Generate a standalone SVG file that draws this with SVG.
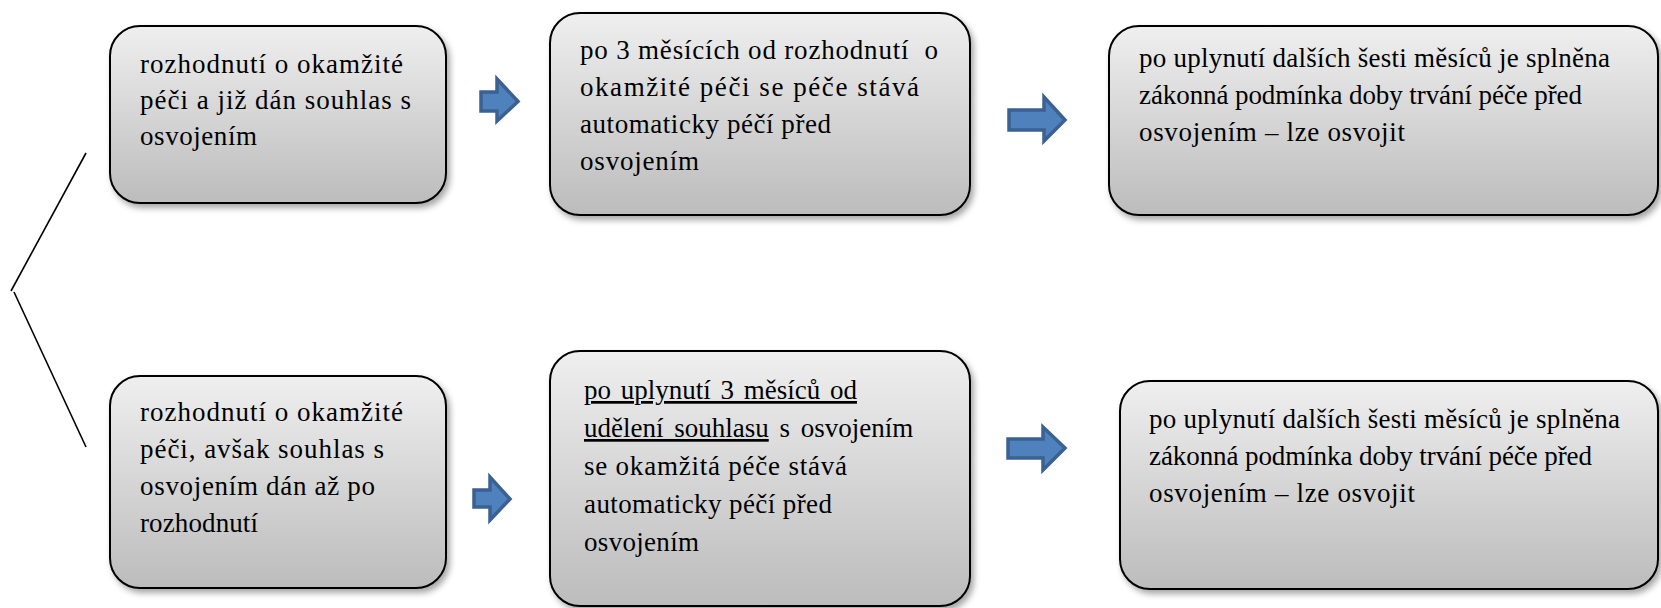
<svg xmlns="http://www.w3.org/2000/svg" width="1661" height="608" viewBox="0 0 1661 608">
<defs>
<linearGradient id="g" x1="0" y1="0" x2="0" y2="1">
<stop offset="0" stop-color="#efefef"/>
<stop offset="1" stop-color="#bcbcbc"/>
</linearGradient>
<filter id="sh" x="-10%" y="-10%" width="125%" height="130%">
<feDropShadow dx="3" dy="4" stdDeviation="3" flood-color="#000" flood-opacity="0.35"/>
</filter>
</defs>
<style>
.box{fill:url(#g);stroke:#000;stroke-width:2;filter:url(#sh)}
.t{font-family:"Liberation Serif","Times New Roman",serif;font-size:27px;fill:#000}
.arr{fill:#4f81bd;stroke:#3a6192;stroke-width:3.5;stroke-linejoin:miter}
.ln{stroke:#000;stroke-width:1.6;fill:none}
</style>
<rect width="1661" height="608" fill="#fff"/>
<g id="connectors">
<line class="ln" x1="86" y1="153" x2="11" y2="291"/>
<line class="ln" x1="14" y1="292" x2="86" y2="447"/>
<path class="arr" d="M481,92 H497 V79 L518,101.5 L497,121 V111 H481 Z"/>
<path class="arr" d="M1009,110 H1044 V97 L1065,120 L1044,141 V130 H1009 Z"/>
<path class="arr" d="M474,490 H490 V477 L510,499 L490,520 V507 H474 Z"/>
<path class="arr" d="M1008,439 H1043 V427 L1065,448 L1043,470 V458 H1008 Z"/>
</g>
<g id="n1">
<rect class="box" x="110" y="26" width="336" height="177" rx="30"/>
<text class="t" x="140" y="73" textLength="263" lengthAdjust="spacing">rozhodnutí o okamžité</text>
<text class="t" x="140" y="109" textLength="271" lengthAdjust="spacing">péči a již dán souhlas s</text>
<text class="t" x="140" y="145" textLength="117" lengthAdjust="spacing">osvojením</text>
</g>
<g id="n2">
<rect class="box" x="550" y="13" width="420" height="202" rx="30"/>
<text class="t" x="580" y="59" xml:space="preserve" textLength="358" lengthAdjust="spacing">po 3 měsících od rozhodnutí  o</text>
<text class="t" x="580" y="96" textLength="339" lengthAdjust="spacing">okamžité péči se péče stává</text>
<text class="t" x="580" y="133" textLength="251" lengthAdjust="spacing">automaticky péčí před</text>
<text class="t" x="580" y="170" textLength="119" lengthAdjust="spacing">osvojením</text>
</g>
<g id="n3">
<rect class="box" x="1109" y="26" width="549" height="189" rx="30"/>
<text class="t" x="1139" y="67" textLength="471" lengthAdjust="spacing">po uplynutí dalších šesti měsíců je splněna</text>
<text class="t" x="1139" y="104" textLength="443" lengthAdjust="spacing">zákonná podmínka doby trvání péče před</text>
<text class="t" x="1139" y="141" textLength="266" lengthAdjust="spacing">osvojením – lze osvojit</text>
</g>
<g id="n4">
<rect class="box" x="110" y="376" width="336" height="212" rx="30"/>
<text class="t" x="140" y="421" textLength="263" lengthAdjust="spacing">rozhodnutí o okamžité</text>
<text class="t" x="140" y="458" textLength="244" lengthAdjust="spacing">péči, avšak souhlas s</text>
<text class="t" x="140" y="495" textLength="235" lengthAdjust="spacing">osvojením dán až po</text>
<text class="t" x="140" y="532" textLength="118" lengthAdjust="spacing">rozhodnutí</text>
</g>
<g id="n5">
<rect class="box" x="550" y="351" width="420" height="255" rx="30"/>
<text class="t" x="584" y="399" text-decoration="underline" word-spacing="3">po uplynutí 3 měsíců od</text>
<text class="t" x="584" y="437" word-spacing="4"><tspan text-decoration="underline">udělení souhlasu</tspan> s osvojením</text>
<text class="t" x="584" y="475" textLength="263" lengthAdjust="spacing">se okamžitá péče stává</text>
<text class="t" x="584" y="513" textLength="248" lengthAdjust="spacing">automaticky péčí před</text>
<text class="t" x="584" y="551" textLength="115" lengthAdjust="spacing">osvojením</text>
</g>
<g id="n6">
<rect class="box" x="1120" y="381" width="538" height="208" rx="30"/>
<text class="t" x="1149" y="428" textLength="471" lengthAdjust="spacing">po uplynutí dalších šesti měsíců je splněna</text>
<text class="t" x="1149" y="465" textLength="443" lengthAdjust="spacing">zákonná podmínka doby trvání péče před</text>
<text class="t" x="1149" y="502" textLength="266" lengthAdjust="spacing">osvojením – lze osvojit</text>
</g>
</svg>
